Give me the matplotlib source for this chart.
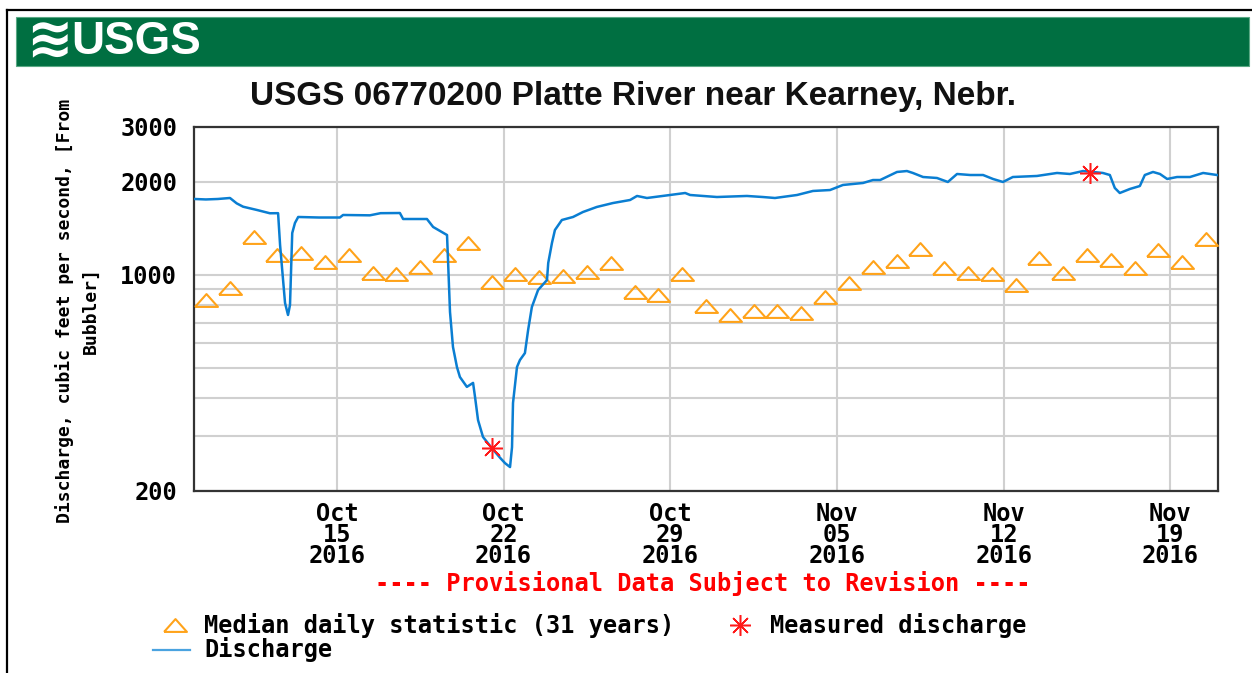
import matplotlib
matplotlib.use("Agg")
import matplotlib.pyplot as plt
import matplotlib.dates as mdates
from matplotlib.lines import Line2D
from matplotlib.patches import Rectangle
from matplotlib.ticker import FixedLocator, FixedFormatter, NullFormatter
import pandas as pd

# ---------------- data ----------------
title = "USGS 06770200 Platte River near Kearney, Nebr."
ylabel = "Discharge, cubic feet per second, [From\nBubbler]"
provisional = "---- Provisional Data Subject to Revision ----"

discharge_time = [
    "2016-10-09 00:30", "2016-10-09 12:00", "2016-10-10 00:00", "2016-10-10 12:15",
    "2016-10-10 19:00", "2016-10-11 01:30", "2016-10-11 15:30", "2016-10-12 04:30",
    "2016-10-12 12:45", "2016-10-12 14:45", "2016-10-12 19:45", "2016-10-12 22:45",
    "2016-10-13 00:45", "2016-10-13 03:00", "2016-10-13 05:45", "2016-10-13 09:00",
    "2016-10-14 06:00", "2016-10-15 03:00", "2016-10-15 06:15", "2016-10-16 09:15",
    "2016-10-16 20:00", "2016-10-17 15:30", "2016-10-17 18:45", "2016-10-18 18:45",
    "2016-10-19 01:00", "2016-10-19 15:00", "2016-10-19 16:00", "2016-10-19 18:00",
    "2016-10-19 21:00", "2016-10-20 01:00", "2016-10-20 04:00", "2016-10-20 11:00",
    "2016-10-20 17:15", "2016-10-20 19:15", "2016-10-20 22:15", "2016-10-21 03:15",
    "2016-10-21 12:15", "2016-10-21 20:30", "2016-10-22 01:30", "2016-10-22 06:30",
    "2016-10-22 08:30", "2016-10-22 09:30", "2016-10-22 13:30", "2016-10-22 16:30",
    "2016-10-22 21:30", "2016-10-23 00:45", "2016-10-23 04:30", "2016-10-23 10:45",
    "2016-10-23 19:45", "2016-10-23 21:00", "2016-10-24 00:45", "2016-10-24 03:45",
    "2016-10-24 10:45", "2016-10-24 22:00", "2016-10-25 08:00", "2016-10-25 22:00",
    "2016-10-26 14:15", "2016-10-27 07:30", "2016-10-27 14:30", "2016-10-28 00:30",
    "2016-10-28 23:45", "2016-10-29 15:00", "2016-10-29 20:00", "2016-10-30 23:00",
    "2016-11-01 05:15", "2016-11-01 21:15", "2016-11-02 09:30", "2016-11-03 07:45",
    "2016-11-03 23:45", "2016-11-04 17:00", "2016-11-05 06:00", "2016-11-06 02:15",
    "2016-11-06 12:15", "2016-11-06 19:30", "2016-11-07 12:30", "2016-11-07 22:30",
    "2016-11-08 04:30", "2016-11-08 14:45", "2016-11-09 04:45", "2016-11-09 15:45",
    "2016-11-10 01:00", "2016-11-10 14:15", "2016-11-11 03:15", "2016-11-11 13:15",
    "2016-11-11 23:15", "2016-11-12 09:15", "2016-11-13 09:30", "2016-11-14 05:45",
    "2016-11-14 18:45", "2016-11-15 08:00", "2016-11-16 04:00", "2016-11-16 11:00",
    "2016-11-16 16:00", "2016-11-16 21:00", "2016-11-17 07:15", "2016-11-17 17:15",
    "2016-11-17 22:15", "2016-11-18 06:30", "2016-11-18 13:30", "2016-11-18 20:45",
    "2016-11-19 06:45", "2016-11-19 19:45", "2016-11-20 09:00", "2016-11-20 23:00",
]
discharge_cfs = [
    1756, 1750, 1756, 1769,
    1700, 1658, 1618, 1579,
    1580, 1247, 810, 741,
    798, 1363, 1469, 1536,
    1530, 1530, 1559, 1555,
    1580, 1582, 1513, 1513,
    1426, 1343, 1115, 758,
    584, 503, 467, 434,
    447, 402, 339, 299,
    275, 256, 246, 239,
    277, 385, 503, 530,
    558, 663, 786, 892,
    961, 1091, 1266, 1394,
    1502, 1536, 1594, 1655,
    1704, 1743, 1796, 1769,
    1809, 1836, 1809, 1782,
    1796, 1782, 1769, 1809,
    1864, 1877, 1949, 1978,
    2022, 2022, 2147, 2162,
    2131, 2068, 2053, 1993,
    2115, 2099, 2099, 2038,
    1993, 2068, 2084, 2131,
    2115, 2162, 2131, 2099,
    1906, 1836, 1892, 1934,
    2099, 2147, 2115, 2038,
    2068, 2068, 2131, 2099,
]

median_start = "2016-10-09 12:00"
median_cfs = [
    828, 904, 1326, 1158, 1172, 1101, 1158, 1010, 1005, 1061,
    1158, 1263, 945, 1005, 985, 990, 1022, 1088, 881, 860,
    1005, 792, 741, 765, 765, 750, 849, 938, 1061, 1110,
    1208, 1049, 1015, 1005, 926, 1130, 1015, 1158, 1115, 1049,
    1201, 1101, 1301,
]

measured_time = ["2016-10-21 12:00", "2016-11-15 15:00"]
measured_cfs = [275, 2126]

xtick_dates = ["2016-10-15", "2016-10-22", "2016-10-29", "2016-11-05", "2016-11-12", "2016-11-19"]
xtick_labels = ["Oct\n15\n2016", "Oct\n22\n2016", "Oct\n29\n2016",
                "Nov\n05\n2016", "Nov\n12\n2016", "Nov\n19\n2016"]
ytick_major = [200, 1000, 2000, 3000]
ytick_labels = ["200", "1000", "2000", "3000"]
ytick_minor = [300, 400, 500, 600, 700, 800, 900]

legend_labels = ["Median daily statistic (31 years)", "Measured discharge", "Discharge"]

# ---------------- styles ----------------
W, H = 1252, 673
MONO = "DejaVu Sans Mono"
FS = 17
BLUE = "#0a7ed2"
ORANGE = "#ffa31a"
RED = "#ff1a1a"
GRID = "#d0d0d0"
GREEN = "#006f41"

def fx(x):
    return x / W

def fy(y):
    return 1 - y / H

tri = [(-1, -0.56), (1, -0.56), (0, 0.56), (-1, -0.56)]
ast = (8, 2, 0)

fig = plt.figure(figsize=(W / 100, H / 100), dpi=100)
fig.patch.set_facecolor("white")

# outer frame
fig.add_artist(Line2D([fx(7), fx(7)], [0, fy(9.5)], color="black", lw=1.6))
fig.add_artist(Line2D([fx(7), 1], [fy(9.5), fy(9.5)], color="black", lw=1.6))

# banner
fig.add_artist(Rectangle((fx(16), fy(66)), fx(1249) - fx(16), (66 - 17) / H,
                         transform=fig.transFigure, facecolor=GREEN,
                         edgecolor="#5aa884", lw=0.8))
fig.text(fx(49), fy(42), "\u224b", color="white", fontsize=40, fontweight="bold",
         family="DejaVu Sans", ha="center", va="center")
fig.text(fx(71), fy(42), "USGS", color="white", fontsize=33, fontweight="bold",
         family="Liberation Sans", ha="left", va="center")

# title
fig.text(fx(633), fy(97), title, fontsize=24, fontweight="bold",
         family="Liberation Sans", ha="center", va="center", color="#111111")

# axes
ax = fig.add_axes([fx(194), fy(491), fx(1218) - fx(194), (491 - 127) / H])
ax.set_yscale("log")
ax.set_ylim(200, 3000)
ax.set_xlim(mdates.date2num(pd.Timestamp("2016-10-09")),
            mdates.date2num(pd.Timestamp("2016-11-21")))

ax.yaxis.set_major_locator(FixedLocator(ytick_major))
ax.yaxis.set_major_formatter(FixedFormatter(ytick_labels))
ax.yaxis.set_minor_locator(FixedLocator(ytick_minor))
ax.yaxis.set_minor_formatter(NullFormatter())
xt = [mdates.date2num(pd.Timestamp(d)) for d in xtick_dates]
ax.xaxis.set_major_locator(FixedLocator(xt))
ax.xaxis.set_major_formatter(FixedFormatter(xtick_labels))
ax.xaxis.set_minor_locator(FixedLocator([]))

ax.grid(which="both", axis="y", color=GRID, lw=1.5, zorder=0)
ax.grid(which="major", axis="x", color=GRID, lw=1.5, zorder=0)
ax.set_axisbelow(True)
ax.tick_params(which="both", length=0)
ax.tick_params(axis="y", pad=12)
ax.tick_params(axis="x", pad=8)
for lab in ax.get_yticklabels() + ax.get_xticklabels():
    lab.set_fontfamily(MONO)
    lab.set_fontweight("bold")
    lab.set_fontsize(FS)
for lab in ax.get_xticklabels():
    lab.set_linespacing(0.84)
for s in ax.spines.values():
    s.set_color("#333333")
    s.set_linewidth(1.6)

# data
med_t = pd.date_range(median_start, periods=len(median_cfs), freq="D")
ax.plot(med_t, median_cfs, linestyle="none", marker=tri, markersize=16.5,
        markerfacecolor="none", markeredgecolor=ORANGE, markeredgewidth=1.5,
        zorder=3, clip_on=False)
ax.plot(pd.to_datetime(discharge_time), discharge_cfs, color=BLUE, lw=1.8, zorder=4)
ax.plot(pd.to_datetime(measured_time), measured_cfs, linestyle="none", marker=ast,
        markersize=15, markeredgecolor=RED, markerfacecolor=RED,
        markeredgewidth=1.1, zorder=5)

# y label
fig.text(fx(77), fy(311), ylabel, rotation=90, ha="center", va="center",
         multialignment="center", family=MONO, fontweight="bold", fontsize=13,
         linespacing=1.55)

# provisional note
fig.text(fx(703), fy(583), provisional, color="red", family=MONO,
         fontweight="bold", fontsize=FS, ha="center", va="center")

# legend (manual)
fig.add_artist(Line2D([fx(175)], [fy(625)], marker=tri, markersize=16.5,
                      markerfacecolor="none", markeredgecolor=ORANGE,
                      markeredgewidth=1.5, linestyle="none"))
fig.text(fx(204), fy(626), legend_labels[0], family=MONO, fontweight="bold",
         fontsize=FS, ha="left", va="center")
fig.add_artist(Line2D([fx(740)], [fy(625)], marker=ast, markersize=15,
                      markeredgecolor=RED, markerfacecolor=RED,
                      markeredgewidth=1.1, linestyle="none"))
fig.text(fx(770), fy(626), legend_labels[1], family=MONO, fontweight="bold",
         fontsize=FS, ha="left", va="center")
fig.add_artist(Line2D([fx(153), fx(190)], [fy(650), fy(650)], color="#4aa3e0", lw=1.6))
fig.text(fx(204), fy(650), legend_labels[2], family=MONO, fontweight="bold",
         fontsize=FS, ha="left", va="center")

fig.savefig("out.png", dpi=100)
